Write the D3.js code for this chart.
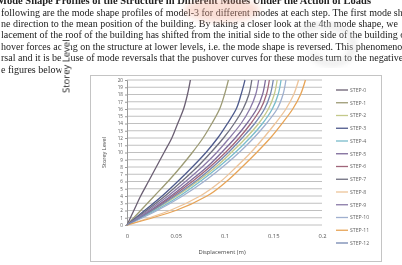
<!DOCTYPE html>
<html>
<head>
<meta charset="utf-8">
<script src="https://cdn.jsdelivr.net/npm/d3@7/dist/d3.min.js"></script>
<style>
  body { margin: 0; background: #fff; overflow: hidden; }
</style>
</head>
<body>
<div id="page"></div>
<script>
// page text above the figure (cut at the left and right edges in the scan)
const heading = "Mode Shape Profiles of the Structure in Different Modes Under the Action of Loads";
const bodyLines = [
    "following are the mode shape profiles of model-3 for different modes at each step. The first mode shows",
    "ne direction to the mean position of the building. By taking a closer look at the 4th mode shape, we",
    "lacement of the roof of the building has shifted from the initial side to the other side of the building due",
    "hover forces acting on the structure at lower levels, i.e. the mode shape is reversed. This phenomenon",
    "rsal and it is because of mode reversals that the pushover curves for these modes turn to the negative side",
    "e figures below"
];

// chart data: storey level vs displacement (m)
const levels = [0, 2, 4, 6, 8, 10, 12, 14, 16, 18, 20];
const stepNames = ["STEP-0", "STEP-1", "STEP-2", "STEP-3", "STEP-4", "STEP-5", "STEP-6",
                   "STEP-7", "STEP-8", "STEP-9", "STEP-10", "STEP-11", "STEP-12"];
const step0  = [0, 0.007, 0.014, 0.022, 0.030, 0.038, 0.046, 0.052, 0.058, 0.062, 0.065];
const step1  = [0, 0.014, 0.028, 0.042, 0.055, 0.067, 0.078, 0.087, 0.095, 0.100, 0.104];
const step2  = [0, 0.027, 0.051, 0.072, 0.091, 0.107, 0.122, 0.135, 0.145, 0.151, 0.154];
const step3  = [0, 0.018, 0.036, 0.052, 0.067, 0.081, 0.093, 0.103, 0.112, 0.117, 0.121];
const step4  = [0, 0.029, 0.054, 0.075, 0.094, 0.111, 0.126, 0.139, 0.149, 0.155, 0.158];
const step5  = [0, 0.024, 0.045, 0.064, 0.082, 0.097, 0.111, 0.123, 0.133, 0.139, 0.142];
const step6  = [0, 0.025, 0.047, 0.067, 0.085, 0.101, 0.115, 0.127, 0.137, 0.143, 0.146];
const step7  = [0, 0.020, 0.039, 0.056, 0.072, 0.086, 0.099, 0.110, 0.119, 0.125, 0.128];
const step8  = [0, 0.044, 0.075, 0.096, 0.112, 0.127, 0.140, 0.152, 0.163, 0.171, 0.176];
const step9  = [0, 0.022, 0.042, 0.060, 0.077, 0.092, 0.105, 0.117, 0.126, 0.132, 0.135];
const step10 = [0, 0.031, 0.057, 0.079, 0.098, 0.115, 0.130, 0.143, 0.154, 0.160, 0.163];
const step11 = [0, 0.050, 0.082, 0.102, 0.118, 0.133, 0.147, 0.159, 0.170, 0.178, 0.183];
const step12 = [0, 0.026, 0.049, 0.070, 0.088, 0.104, 0.118, 0.131, 0.141, 0.147, 0.150];
const stepValues = [step0, step1, step2, step3, step4, step5, step6,
                    step7, step8, step9, step10, step11, step12];
const stepColors = ["#6b5f73", "#9c9a74", "#c4c98a", "#4e5a8c", "#79bccb", "#7d6a9a", "#a0667a",
                    "#6f6f7f", "#edc49a", "#8a7aa8", "#9fb0cf", "#e7a457", "#7587b0"];
const levelTicks = d3.range(0, 21);
const dispTicks = [0, 0.05, 0.1, 0.15, 0.2];

const W = 402, H = 265;
const svg = d3.select("#page").append("svg")
    .attr("width", W)
    .attr("height", H);

// soft blur to get close to the scanned look
const defs = svg.append("defs");
defs.append("filter").attr("id", "scan")
    .append("feGaussianBlur").attr("stdDeviation", 0.45);
defs.append("filter").attr("id", "scanText")
    .append("feGaussianBlur").attr("stdDeviation", 0.25);
defs.append("filter").attr("id", "wm")
    .append("feGaussianBlur").attr("stdDeviation", 3);

// ---- page text ----
const textG = svg.append("g").attr("filter", "url(#scanText)")
    .style("font-family", "'Liberation Serif', 'Times New Roman', serif")
    .style("font-size", "10px")
    .attr("fill", "#222");

textG.append("text")
    .attr("x", -3).attr("y", 4.3)
    .style("font-weight", "bold")
    .style("font-size", "10.5px")
    .text(heading);

textG.selectAll("text.body")
    .data(bodyLines)
    .join("text")
    .attr("class", "body")
    .attr("x", 1)
    .attr("y", (d, i) => 15.7 + i * 11.36)
    .text(d => d);

// faint watermark of the journal page
svg.append("ellipse")
    .attr("cx", 222).attr("cy", 10).attr("rx", 38).attr("ry", 12)
    .attr("fill", "#f2a48c").attr("opacity", 0.35)
    .attr("filter", "url(#wm)");
svg.append("path")
    .attr("d", "M300,30 C330,18 360,30 352,52 C345,68 318,66 312,54")
    .attr("fill", "none").attr("stroke", "#d8d8d8").attr("stroke-width", 5)
    .attr("opacity", 0.6)
    .attr("filter", "url(#wm)");

// rotated label of the figure behind, laid over the text
svg.append("rect")
    .attr("x", 61.5).attr("y", 41).attr("width", 9).attr("height", 52)
    .attr("fill", "#fff");
svg.append("text")
    .attr("transform", "translate(69.5,93) rotate(-90)")
    .attr("filter", "url(#scanText)")
    .style("font-family", "'Open Sans', sans-serif")
    .style("font-size", "9.5px")
    .attr("fill", "#222")
    .text("Storey Level");

// ---- chart ----
const chart = svg.append("g").attr("filter", "url(#scan)");

// outer frame of the excel chart
chart.append("rect")
    .attr("x", 90.5).attr("y", 75.5)
    .attr("width", 291).attr("height", 186)
    .attr("fill", "none")
    .attr("stroke", "#c4c4c4")
    .attr("stroke-width", 1);

const x = d3.scaleLinear().domain([0, 0.2]).range([127, 322]);
const y = d3.scaleLinear().domain([0, 20]).range([225, 80]);

//grid lines for every storey
chart.append("g")
    .selectAll("line")
    .data(levelTicks)
    .join("line")
    .attr("x1", x(0)).attr("x2", x(0.2))
    .attr("y1", d => y(d)).attr("y2", d => y(d))
    .attr("stroke", "#b9b9b9")
    .attr("stroke-width", 0.9);

//y axis
const yAxis = chart.append("g")
    .attr("transform", `translate(${x(0)},0)`)
    .call(d3.axisLeft(y).tickValues(levelTicks).tickSize(2).tickPadding(2));
yAxis.select(".domain").attr("stroke", "#9a9a9a");
yAxis.selectAll(".tick line").attr("stroke", "#9a9a9a");
yAxis.selectAll("text")
    .style("font-family", "'Open Sans', sans-serif")
    .style("font-size", "4.6px")
    .attr("fill", "#555");

//x axis labels
const xAxis = chart.append("g")
    .attr("transform", `translate(0,${y(0)})`)
    .call(d3.axisBottom(x).tickValues(dispTicks).tickFormat(d3.format("~g")).tickSize(0).tickPadding(9));
xAxis.select(".domain").remove();
xAxis.selectAll("text")
    .style("font-family", "'Open Sans', sans-serif")
    .style("font-size", "5.8px")
    .attr("fill", "#555");

//axis titles
chart.append("text")
    .attr("transform", `translate(106,${y(10)}) rotate(-90)`)
    .style("text-anchor", "middle")
    .style("font-family", "'Open Sans', sans-serif")
    .style("font-size", "5.5px")
    .attr("fill", "#444")
    .text("Storey Level");

chart.append("text")
    .attr("x", 222).attr("y", 254)
    .style("text-anchor", "middle")
    .style("font-family", "'Open Sans', sans-serif")
    .style("font-size", "5.8px")
    .attr("fill", "#444")
    .text("Displacement (m)");

//mode shape lines
const line = d3.line()
    .x(d => x(d.disp))
    .y(d => y(d.level))
    .curve(d3.curveMonotoneY);

stepNames.forEach((name, i) => {
    const series = levels.map((lv, j) => ({ level: lv, disp: stepValues[i][j] }));
    chart.append("path")
        .datum(series)
        .attr("fill", "none")
        .attr("stroke", stepColors[i])
        .attr("stroke-width", 1.3)
        .attr("d", line);
});

//legend
const legend = chart.append("g")
    .selectAll("g")
    .data(stepNames)
    .join("g")
    .attr("transform", (d, i) => `translate(336,${90 + i * 12.75})`);

legend.append("line")
    .attr("x1", 0).attr("x2", 12)
    .attr("stroke", (d, i) => stepColors[i])
    .attr("stroke-width", 1.3);

legend.append("text")
    .attr("x", 14).attr("dy", "0.35em")
    .style("font-family", "'Open Sans', sans-serif")
    .style("font-size", "5.2px")
    .attr("fill", "#666")
    .text(d => d);
</script>
</body>
</html>
